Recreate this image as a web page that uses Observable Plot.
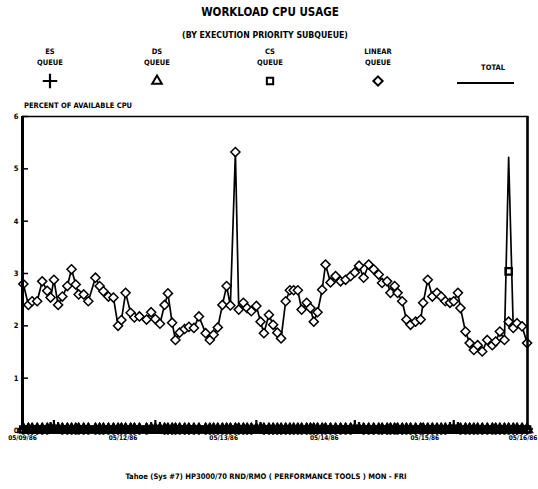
<!DOCTYPE html>
<html><head><meta charset="utf-8">
<script src="https://cdn.jsdelivr.net/npm/d3@7"></script>
<script src="https://cdn.jsdelivr.net/npm/@observablehq/plot@0.6"></script>
<style>
body{margin:0;background:#fff;}
#wrap{position:relative;width:538px;height:489px;overflow:hidden;font-family:"Liberation Sans Narrow","DejaVu Sans Condensed","Liberation Sans",Arial,sans-serif;font-weight:bold;color:#000;}
.t{position:absolute;white-space:nowrap;transform:translate(-50%,-50%);line-height:1;z-index:2;}
.l{position:absolute;white-space:nowrap;line-height:1;z-index:2;}
#chart{position:absolute;left:0;top:95px;z-index:1;}
svg.mk{position:absolute;overflow:visible;z-index:2;}
</style></head>
<body><div id="wrap">
<div class="t" style="left:270px;top:13px;font-size:11.5px;">WORKLOAD CPU USAGE</div>
<div class="t" style="left:265px;top:35px;font-size:8.7px;">(BY EXECUTION PRIORITY SUBQUEUE)</div>
<div id="legend"></div>
<div class="l" style="left:24px;top:102px;font-size:7.5px;">PERCENT OF AVAILABLE CPU</div>
<div id="chart"></div>
<div class="t" style="left:266px;top:477px;font-size:7.6px;">Tahoe (Sys #7) HP3000/70 RND/RMO ( PERFORMANCE TOOLS ) MON - FRI</div>
</div>
<script>
// time of each sample, hours from 05/09/86 00:00
const hours = [0.2,1.4,2.3,3.5,4.7,5.9,6.7,7.5,8.5,9.5,10.7,11.7,12.7,13.4,14.6,15.7,17.4,18.4,19.3,20.5,21.7,22.8,23.6,24.6,25.8,26.7,27.9,29.6,30.7,31.7,32.8,33.9,34.7,35.7,36.5,37.5,38.7,39.7,40.9,42.1,43.7,44.7,45.6,46.6,47.7,48.7,49.6,50.8,51.6,52.7,53.6,54.6,55.8,56.8,57.6,58.8,59.8,60.8,61.7,62.8,63.8,64.7,65.7,66.6,67.8,68.7,69.5,70.4,71.5,72.3,73.5,74.7,75.9,77.1,78.3,79.3,80.3,81.4,82.6,83.8,85.0,85.8,87.0,87.8,88.8,89.5,90.6,91.6,92.6,93.8,95.0,95.6,96.7,97.8,98.9,99.9,100.9,102.0,102.9,103.9,104.5,105.7,106.7,107.7,108.6,109.7,110.9,112.1,112.9,113.9,115.0,116.0,117.1,118.0,119.2,120.4];
const linearQueue = [2.80,2.40,2.47,2.47,2.85,2.67,2.54,2.88,2.40,2.56,2.76,3.08,2.79,2.60,2.60,2.47,2.92,2.76,2.66,2.56,2.54,2.00,2.11,2.63,2.25,2.16,2.18,2.12,2.26,2.13,2.04,2.40,2.62,2.06,1.73,1.87,1.94,1.98,1.96,2.18,1.86,1.73,1.83,1.97,2.40,2.76,2.39,5.32,2.31,2.44,2.34,2.28,2.38,2.08,1.86,2.21,2.02,1.87,1.76,2.47,2.68,2.68,2.68,2.31,2.44,2.34,2.08,2.26,2.69,3.17,2.83,2.95,2.85,2.88,2.95,3.02,3.15,2.92,3.17,3.08,2.98,2.82,2.85,2.63,2.76,2.63,2.47,2.12,2.02,2.08,2.12,2.44,2.88,2.56,2.63,2.56,2.47,2.44,2.47,2.63,2.34,1.89,1.67,1.54,1.63,1.51,1.73,1.63,1.70,1.89,1.73,2.08,1.96,2.05,1.99,1.67];
const totalCpu = [2.80,2.40,2.47,2.47,2.85,2.67,2.54,2.88,2.40,2.56,2.76,3.08,2.79,2.60,2.60,2.47,2.92,2.76,2.66,2.56,2.54,2.00,2.11,2.63,2.25,2.16,2.18,2.12,2.26,2.13,2.04,2.40,2.62,2.06,1.73,1.87,1.94,1.98,1.96,2.18,1.86,1.73,1.83,1.97,2.40,2.76,2.39,5.32,2.31,2.44,2.34,2.28,2.38,2.08,1.86,2.21,2.02,1.87,1.76,2.47,2.68,2.68,2.68,2.31,2.44,2.34,2.08,2.26,2.69,3.17,2.83,2.95,2.85,2.88,2.95,3.02,3.15,2.92,3.17,3.08,2.98,2.82,2.85,2.63,2.76,2.63,2.47,2.12,2.02,2.08,2.12,2.44,2.88,2.56,2.63,2.56,2.47,2.44,2.47,2.63,2.34,1.89,1.67,1.54,1.63,1.51,1.73,1.63,1.70,1.89,1.73,5.22,1.96,2.05,1.99,1.67];
const esQueue = [0.03,0.03,0.03,0.03,0.03,0.03,0.05,0.09,0.05,0.03,0.03,0.03,0.03,0.03,0.03,0.03,0.03,0.03,0.03,0.03,0.03,0.03,0.03,0.03,0.03,0.03,0.03,0.03,0.05,0.09,0.05,0.03,0.03,0.03,0.03,0.03,0.03,0.03,0.03,0.03,0.03,0.03,0.03,0.03,0.03,0.03,0.03,0.03,0.03,0.03,0.03,0.03,0.09,0.05,0.03,0.03,0.03,0.03,0.03,0.03,0.03,0.03,0.03,0.03,0.03,0.03,0.03,0.03,0.03,0.03,0.03,0.03,0.03,0.03,0.03,0.09,0.05,0.03,0.03,0.03,0.03,0.03,0.03,0.03,0.03,0.03,0.03,0.03,0.03,0.03,0.03,0.03,0.03,0.03,0.03,0.03,0.03,0.05,0.09,0.05,0.03,0.03,0.03,0.03,0.03,0.03,0.03,0.03,0.03,0.03,0.03,0.03,0.03,0.03,0.03,0.03];
const dsQueue = [0.02,0.02,0.02,0.02,0.02,0.02,0.02,0.02,0.02,0.02,0.02,0.02,0.02,0.02,0.02,0.02,0.02,0.02,0.02,0.02,0.02,0.02,0.02,0.02,0.02,0.02,0.02,0.02,0.02,0.02,0.02,0.02,0.02,0.02,0.02,0.02,0.02,0.02,0.02,0.02,0.02,0.02,0.02,0.02,0.02,0.02,0.02,0.02,0.02,0.02,0.02,0.02,0.02,0.02,0.02,0.02,0.02,0.02,0.02,0.02,0.02,0.02,0.02,0.02,0.02,0.02,0.02,0.02,0.02,0.02,0.02,0.02,0.02,0.02,0.02,0.02,0.02,0.02,0.02,0.02,0.02,0.02,0.02,0.02,0.02,0.02,0.02,0.02,0.02,0.02,0.02,0.02,0.02,0.02,0.02,0.02,0.02,0.02,0.02,0.02,0.02,0.02,0.02,0.02,0.02,0.02,0.02,0.02,0.02,0.02,0.02,0.02,0.02,0.02,0.02,0.02];
const csQueue = [0.02,0.02,0.02,0.02,0.02,0.02,0.02,0.02,0.02,0.02,0.02,0.02,0.02,0.02,0.02,0.02,0.02,0.02,0.02,0.02,0.02,0.02,0.02,0.02,0.02,0.02,0.02,0.02,0.02,0.02,0.02,0.02,0.02,0.02,0.02,0.02,0.02,0.02,0.02,0.02,0.02,0.02,0.02,0.02,0.02,0.02,0.02,0.02,0.02,0.02,0.02,0.02,0.02,0.02,0.02,0.02,0.02,0.02,0.02,0.02,0.02,0.02,0.02,0.02,0.02,0.02,0.02,0.02,0.02,0.02,0.02,0.02,0.02,0.02,0.02,0.02,0.02,0.02,0.02,0.02,0.02,0.02,0.02,0.02,0.02,0.02,0.02,0.02,0.02,0.02,0.02,0.02,0.02,0.02,0.02,0.02,0.02,0.02,0.02,0.02,0.02,0.02,0.02,0.02,0.02,0.02,0.02,0.02,0.02,0.02,0.02,3.04,0.02,0.02,0.02,0.02,0.02];
const dayTicks = [0,24,48,72,96,120];
const dateLabels = ["05/09/86","05/12/86","05/13/86","05/14/86","05/15/86","05/16/86"];
const yTicks = [0,1,2,3,4,5,6];
const legendNames = [["ES","QUEUE"],["DS","QUEUE"],["CS","QUEUE"],["LINEAR","QUEUE"],["TOTAL"]];

const rows = hours.map((h,i)=>({h, linear: linearQueue[i], total: totalCpu[i], es: esQueue[i], ds: dsQueue[i], cs: csQueue[i]}));
const FONT = '"Liberation Sans Narrow","DejaVu Sans Condensed","Liberation Sans",Arial,sans-serif';
const lastTick = dayTicks[dayTicks.length - 1];

const chart = Plot.plot({
  width: 538, height: 355,
  marginLeft: 22, marginRight: 11, marginTop: 21, marginBottom: 20,
  style: {fontFamily: FONT, fontWeight: "bold", fontSize: "7px", background: "transparent", color: "black", overflow: "visible"},
  x: {domain: [0, 120.5], axis: null},
  y: {domain: [0, 6], axis: null},
  marks: [
    Plot.frame({stroke: "black", strokeWidth: 1.5}),
    Plot.axisY({ticks: yTicks, tickSize: -6, tickPadding: 10, strokeWidth: 1.5, tickFormat: d => String(d), fontSize: 7.5, label: null}),
    Plot.text(dayTicks.filter(d => d !== lastTick), {x: d => d, frameAnchor: "bottom", dy: 9, text: d => dateLabels[dayTicks.indexOf(d)], fontSize: 6.5, textAnchor: "middle"}),
    Plot.text([lastTick], {x: d => d, frameAnchor: "bottom", dy: 9, dx: 12, text: d => dateLabels[dayTicks.indexOf(d)], fontSize: 6.5, textAnchor: "end"}),
    Plot.line(rows, {x: "h", y: "total", stroke: "black", strokeWidth: 1.7}),
    Plot.dot(rows, {x: "h", y: "cs", symbol: "square", r: 3.6, stroke: "black", fill: "none", strokeWidth: 2.2}),
    Plot.dot(rows, {x: "h", y: "ds", symbol: "triangle", r: 3.6, stroke: "black", fill: "none", strokeWidth: 2.2}),
    Plot.dot(rows, {x: "h", y: "es", symbol: "plus", r: 3.8, stroke: "black", strokeWidth: 2.2}),
    Plot.dot(rows, {x: "h", y: "linear", symbol: "diamond2", r: 4.1, stroke: "black", fill: "white", strokeWidth: 1.5}),
    Plot.ruleX([0], {stroke: "black", strokeWidth: 3}),
    Plot.ruleX([120.5], {stroke: "black", strokeWidth: 2.5}),
    Plot.ruleY([0], {stroke: "black", strokeWidth: 3.5})
  ]
});
document.getElementById("chart").appendChild(chart);

// legend
const lg = document.getElementById("legend");
const legendX = [50, 157, 270, 378, 493];
legendNames.forEach((names, i) => {
  if (names.length === 2) {
    names.forEach((n, j) => {
      const d = document.createElement("div");
      d.className = "t"; d.style.left = legendX[i] + "px"; d.style.top = (52 + j * 11) + "px"; d.style.fontSize = "7.5px";
      d.textContent = n; lg.appendChild(d);
    });
  } else {
    const d = document.createElement("div");
    d.className = "t"; d.style.left = legendX[i] + "px"; d.style.top = "68px"; d.style.fontSize = "7.5px";
    d.textContent = names[0]; lg.appendChild(d);
  }
});
const ns = "http://www.w3.org/2000/svg";
const syms = [d3.symbolPlus, d3.symbolTriangle, d3.symbolSquare, d3.symbolDiamond2];
const symSizes = [70, 40, 40, 55];
syms.forEach((s, i) => {
  const svg = document.createElementNS(ns, "svg");
  svg.setAttribute("class", "mk"); svg.setAttribute("width", 14); svg.setAttribute("height", 14);
  svg.style.left = (legendX[i] - 7) + "px"; svg.style.top = (81 - 7) + "px";
  const p = document.createElementNS(ns, "path");
  p.setAttribute("d", d3.symbol(s, symSizes[i])());
  p.setAttribute("transform", "translate(7,7)");
  p.setAttribute("fill", i === 0 ? "none" : "white");
  p.setAttribute("stroke", "black"); p.setAttribute("stroke-width", i === 0 ? 2.2 : 2);
  svg.appendChild(p); lg.appendChild(svg);
});
const ls = document.createElementNS(ns, "svg");
ls.setAttribute("class", "mk"); ls.setAttribute("width", 60); ls.setAttribute("height", 6);
ls.style.left = "456px"; ls.style.top = "80px";
const ln = document.createElementNS(ns, "line");
ln.setAttribute("x1", 1); ln.setAttribute("x2", 58); ln.setAttribute("y1", 3); ln.setAttribute("y2", 3);
ln.setAttribute("stroke", "black"); ln.setAttribute("stroke-width", 2);
ls.appendChild(ln); lg.appendChild(ls);
</script>
</body></html>
